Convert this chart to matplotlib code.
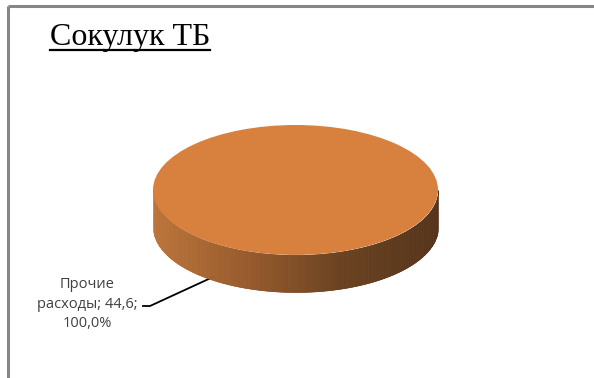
import numpy as np
import matplotlib
matplotlib.use("Agg")
import matplotlib.pyplot as plt
from matplotlib.colors import LinearSegmentedColormap

# Data
title = "Сокулук ТБ"
categories = ["Прочие расходы"]
values = [44.6]
slice_colors = ["#D8813E"]

W, H = 594, 378
fig = plt.figure(figsize=(W / 100, H / 100), dpi=100)

# Full-figure overlay in pixel coordinates for frame, title and leader line
base = fig.add_axes([0, 0, 1, 1])
base.set_xlim(0, W)
base.set_ylim(H, 0)
base.axis("off")

# Chart-area border (only top and left edges fall within the image)
base.plot([8, W], [6, 6], color="#868686", lw=2.2, solid_capstyle="butt")
base.plot([8, 8], [6, H], color="#868686", lw=2.2, solid_capstyle="butt")

# Underlined serif title
t = base.text(50, 45, title, fontsize=23, family="Liberation Serif",
              color="black", ha="left", va="baseline")
fig.canvas.draw()
bb = t.get_window_extent().transformed(base.transData.inverted())
base.plot([bb.x0, bb.x1], [49.5, 49.5], color="black", lw=1.6)

# 3-D pie axes: unit circle stretched into an ellipse, with a drop for the side
depth = 0.57
left_px, right_px, top_px, bottom_px = 153, 438, 125, 292
pie_ax = fig.add_axes([left_px / W, (H - bottom_px) / H,
                       (right_px - left_px) / W, (bottom_px - top_px) / H])
pie_ax.axis("off")

# Side wall with left-to-right shading
side_cmap = LinearSegmentedColormap.from_list(
    "side", [(0.0, "#BC7439"), (0.35, "#94582B"), (0.65, "#6A411F"),
             (1.0, "#55331A")])
xs = np.linspace(-1, 1, 400)
for i in range(len(xs) - 1):
    xa, xb = xs[i], xs[i + 1]
    xm = np.linspace(xa, xb, 4)
    ytop = -np.sqrt(np.clip(1 - xm ** 2, 0, None))
    c = side_cmap((xa + xb) / 4 + 0.5)
    pie_ax.fill_between(xm, ytop - depth, ytop, color=c, lw=0.4, edgecolor=c)

# Top face drawn from the data
pie_ax.pie(values, colors=slice_colors, radius=1, center=(0, 0),
           startangle=90, counterclock=False,
           wedgeprops=dict(linewidth=0))
pie_ax.set_aspect("auto")
pie_ax.set_xlim(-1, 1)
pie_ax.set_ylim(-1 - depth, 1)

# Data label with leader line
total = sum(values)
label = "{}\n{}; {};\n{}%".format(
    categories[0].split()[0], categories[0].split()[1],
    f"{values[0]:.1f}".replace(".", ","),
    f"{values[0] / total * 100:.1f}".replace(".", ","))
base.text(87, 304, label, fontsize=10.5, family="Open Sans", color="#404040",
          ha="center", va="center", linespacing=1.45)
base.plot([143, 150, 213], [306, 306, 277], color="black", lw=1.3)

fig.savefig("out.png", dpi=100, facecolor="white")
